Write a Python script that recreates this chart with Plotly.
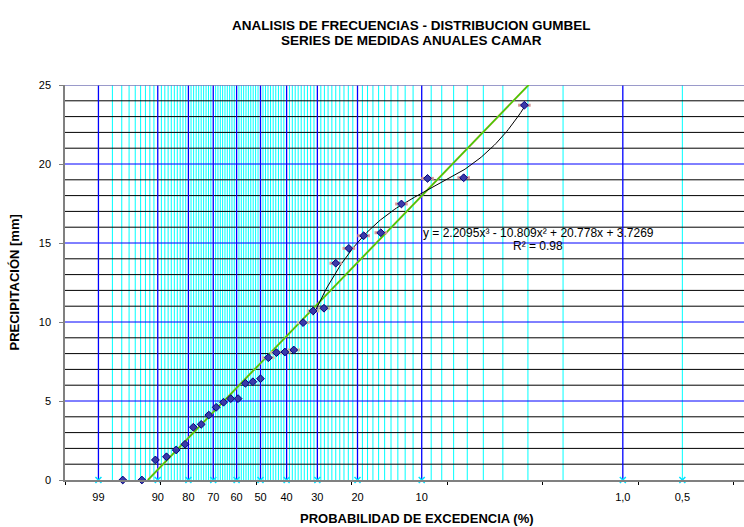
import numpy as np
import plotly.graph_objects as go

# Precipitación máxima anual (mm), ordenada de menor a mayor
precipitacion = [0.00, 0.00, 1.27, 1.47, 1.90, 2.26, 3.34, 3.52, 4.11, 4.60,
                 4.92, 5.15, 5.15, 6.12, 6.22, 6.41, 7.74, 8.06, 8.10, 8.23,
                 9.96, 10.70, 10.87, 13.72, 14.66, 15.46, 15.65, 17.47, 19.09,
                 19.13, 23.72]

# Media y desviación reducidas de Gumbel para n = 31
YN = 0.5371
SN = 1.1159

# Probabilidades de excedencia (%) rotuladas en el eje
prob_etiquetas = [99, 90, 80, 70, 60, 50, 40, 30, 20, 10, 1.0, 0.5]
texto_etiquetas = ["99", "90", "80", "70", "60", "50", "40", "30", "20", "10", "1,0", "0,5"]
# Líneas del papel probabilístico
prob_principales = [99, 90, 80, 70, 60, 50, 40, 30, 20, 10, 1]
prob_secundarias = [0.5] + [p for p in range(2, 99) if p % 10]

# Línea de tendencia polinómica (grado 3) de los 10 mayores valores
coef_poli = [2.2095, -10.809, 20.778, 3.7269]
r2 = 0.98
n_tendencia = 10

X_MIN, X_MAX = -2.2, 4.91
Y_MIN, Y_MAX = 0, 25

FUENTE = "Arial, Liberation Sans, sans-serif"


def factor_k(p_exc):
    """Factor de frecuencia de Gumbel para una probabilidad de excedencia en %."""
    f = 1.0 - np.asarray(p_exc, dtype=float) / 100.0
    u = -np.log(-np.log(f))
    return (u - YN) / SN


def lineas_verticales(xs):
    x, y = [], []
    for v in xs:
        x += [v, v, None]
        y += [Y_MIN, Y_MAX, None]
    return x, y


def lineas_horizontales(ys):
    x, y = [], []
    for v in ys:
        x += [X_MIN, X_MAX, None]
        y += [v, v, None]
    return x, y


n = len(precipitacion)
rango = np.arange(n, 0, -1)               # orden descendente (m)
p_weibull = 100.0 * rango / (n + 1)       # probabilidad de excedencia
k_datos = factor_k(p_weibull)

fig = go.Figure()

# Retícula vertical del papel de Gumbel
xs, ys = lineas_verticales(factor_k(prob_secundarias))
fig.add_trace(go.Scatter(x=xs, y=ys, mode="lines",
                         line=dict(color="#00ffff", width=1), hoverinfo="skip"))

# Retícula horizontal cada 1 mm
xs, ys = lineas_horizontales([v for v in range(1, Y_MAX) if v % 5])
fig.add_trace(go.Scatter(x=xs, y=ys, mode="lines",
                         line=dict(color="#000000", width=1), hoverinfo="skip"))

xs, ys = lineas_verticales(factor_k(prob_principales))
fig.add_trace(go.Scatter(x=xs, y=ys, mode="lines",
                         line=dict(color="#0000ff", width=1.3), hoverinfo="skip"))

xs, ys = lineas_horizontales([v for v in range(5, Y_MAX, 5)])
fig.add_trace(go.Scatter(x=xs, y=ys, mode="lines",
                         line=dict(color="#0000ff", width=1), hoverinfo="skip"))

xs, ys = lineas_horizontales([Y_MAX])
fig.add_trace(go.Scatter(x=xs, y=ys, mode="lines",
                         line=dict(color="#7878b8", width=1.5), hoverinfo="skip"))

# Recta de Gumbel: P = media + K * desviación
media = float(np.mean(precipitacion))
desv = float(np.std(precipitacion, ddof=1))
k_recta = np.array([-media / desv, X_MAX + 0.2])
p_recta = media + k_recta * desv
fig.add_trace(go.Scatter(x=k_recta, y=p_recta, mode="lines",
                         line=dict(color="#d0a060", width=2.0), hoverinfo="skip"))
fig.add_trace(go.Scatter(x=k_recta, y=p_recta, mode="lines",
                         line=dict(color="#3ad200", width=1.4), hoverinfo="skip"))

# Tendencia polinómica
k_poli = np.linspace(k_datos[n - n_tendencia], k_datos[-1], 120)
p_poli = np.polyval(coef_poli, k_poli)
fig.add_trace(go.Scatter(x=k_poli, y=p_poli, mode="lines",
                         line=dict(color="#000000", width=1), hoverinfo="skip"))

# Marcas secundarias de los valores superiores
colores_guion = ["#c8c4a0"] * 7 + ["#d89a98"] * 8
fig.add_trace(go.Scatter(x=k_datos[16:], y=precipitacion[16:], mode="markers",
                         marker=dict(symbol="line-ew", size=9,
                                     line=dict(color=colores_guion, width=3)),
                         hoverinfo="skip", cliponaxis=False))

# Datos observados
fig.add_trace(go.Scatter(x=k_datos, y=precipitacion, mode="markers",
                         marker=dict(symbol="diamond", size=6, color="#3a3aa8",
                                     line=dict(color="#000080", width=1)),
                         cliponaxis=False))

# Marcas de las probabilidades rotuladas
fig.add_trace(go.Scatter(x=factor_k(prob_etiquetas), y=[0] * len(prob_etiquetas),
                         mode="markers",
                         marker=dict(symbol="x-thin", size=6,
                                     line=dict(color="#00e0ff", width=1.5)),
                         hoverinfo="skip", cliponaxis=False))

fig.update_layout(
    width=744, height=527,
    margin=dict(l=65, r=0, t=85, b=47),
    paper_bgcolor="white", plot_bgcolor="white",
    showlegend=False,
    font=dict(family=FUENTE, size=11, color="black"),
    xaxis=dict(
        range=[X_MIN, X_MAX], showgrid=False, zeroline=False,
        showline=True, linecolor="#808080", linewidth=2,
        tickmode="array", tickvals=list(factor_k(prob_etiquetas)),
        ticktext=texto_etiquetas, ticks="", ticklabelstandoff=6,
        tickfont=dict(size=11),
        minor=dict(tickmode="array",
                   tickvals=[X_MIN + i for i in range(8)],
                   ticks="outside", ticklen=3, tickcolor="#000000",
                   showgrid=False),
    ),
    yaxis=dict(
        range=[Y_MIN, Y_MAX], showgrid=False, zeroline=False,
        showline=True, linecolor="#808080", linewidth=1.5,
        tickmode="array", tickvals=list(range(0, Y_MAX + 1, 5)),
        ticks="outside", ticklen=4, tickcolor="#808080",
        ticklabelstandoff=6, tickfont=dict(size=11),
    ),
)

pw, ph = 679.0, 395.0


def px(xp):
    return (xp - 65) / pw


def py(yp):
    return (480 - yp) / ph


anotaciones = [
    dict(text="<b>ANALISIS DE FRECUENCIAS - DISTRIBUCION GUMBEL</b>",
         x=px(411), y=py(25), size=13.5),
    dict(text="<b>SERIES DE MEDIDAS ANUALES CAMAR</b>",
         x=px(411), y=py(40), size=13.5),
    dict(text="<b>PROBABILIDAD DE EXCEDENCIA (%)</b>",
         x=px(417), y=py(518), size=13),
    dict(text="y = %gx³ - %gx² + %gx + %g" % (coef_poli[0], -coef_poli[1],
                                              coef_poli[2], coef_poli[3]),
         x=px(538), y=py(233), size=12),
    dict(text="R² = %.2f" % r2, x=px(538), y=py(246), size=12),
]
for a in anotaciones:
    fig.add_annotation(text=a["text"], x=a["x"], y=a["y"], xref="paper",
                       yref="paper", showarrow=False, xanchor="center",
                       yanchor="middle", font=dict(family=FUENTE, size=a["size"]))

fig.add_annotation(text="<b>PRECIPITACIÓN [mm]</b>", x=px(14), y=0.5,
                   xref="paper", yref="paper", showarrow=False, textangle=-90,
                   xanchor="center", yanchor="middle",
                   font=dict(family=FUENTE, size=13))

fig.write_html("out.html")
